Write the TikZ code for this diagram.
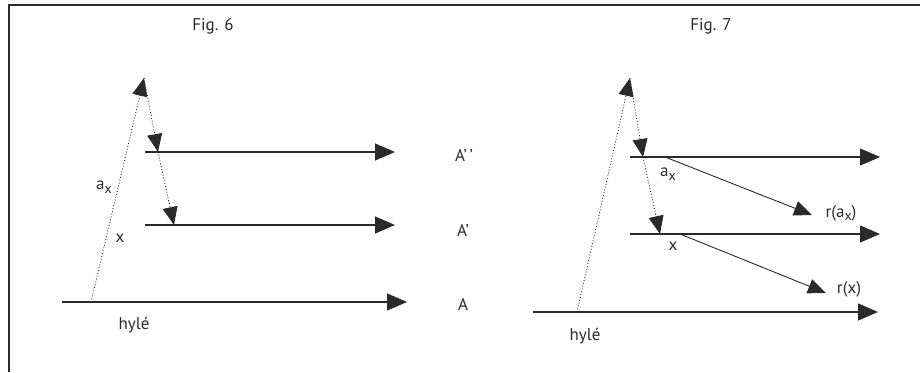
\documentclass[tikz,border=0pt]{standalone}
\usepackage{fontspec}
\setmainfont{PT Sans}
\usetikzlibrary{arrows.meta}
\definecolor{ink}{HTML}{2A2A2A}
\newcommand{\subx}{\raisebox{-0.45ex}{\fontsize{14}{14}\selectfont x}}
\tikzset{
  axis/.style={draw=ink, line width=1.1pt, -{Triangle[length=20pt,width=17pt]}},
  ray/.style={draw=ink, line width=0.9pt, -{Triangle[length=18pt,width=15pt]}},
  dotline/.style={draw=ink, line width=0.9pt, dotted, -{Triangle[length=18pt,width=15pt]}},
  lab/.style={font=\fontsize{17}{20}\selectfont, text=ink, inner sep=0pt}
}
\begin{document}
\begin{tikzpicture}[x=1pt,y=-1pt]
\useasboundingbox (0,0) rectangle (920,372);
% frame
\draw[ink, line width=1.2pt] (9,372) -- (9,5) -- (920,5);
% titles
\node[lab] (f6) at (213,26) {Fig. 6};
\node[lab] (f7) at (711,26) {Fig. 7};
% ---------- Fig 6 ----------
\coordinate (h6s) at (62,302);
\coordinate (h6e) at (407,302);
\coordinate (b6)  at (91,302);
\coordinate (p6)  at (144,78);
\coordinate (q6)  at (158,152);
\coordinate (r6)  at (174,225);
\coordinate (a2s) at (145,152);
\coordinate (a2e) at (395,152);
\coordinate (a1s) at (145,225);
\coordinate (a1e) at (395,225);
\draw[axis] (h6s) -- (h6e);
\draw[axis] (a2s) -- (a2e);
\draw[axis] (a1s) -- (a1e);
\draw[dotline] (b6) -- (p6);
\draw[dotline] (p6) -- (q6);
\draw[dotline] (q6) -- (r6);
\node[lab] (ax6) at (104,187) {a\subx};
\node[lab] (x6) at (120,238) {x};
\node[lab] (hy6) at (134,325) {hylé};
\node[lab] (A2) at (464,155) {A\textquoteright\,\textquoteright};
\node[lab] (A1) at (463,230) {A\textquoteright};
\node[lab] (A0) at (463,304) {A};
% ---------- Fig 7 ----------
\coordinate (h7s) at (533,312);
\coordinate (h7e) at (878,312);
\coordinate (b7)  at (577,312);
\coordinate (p7)  at (630,78);
\coordinate (q7)  at (643,157);
\coordinate (r7)  at (660,234);
\coordinate (c2s) at (630,157);
\coordinate (c2e) at (880,157);
\coordinate (c1s) at (630,234);
\coordinate (c1e) at (880,234);
\coordinate (d2s) at (665,157);
\coordinate (d2e) at (812,215);
\coordinate (d1s) at (680,234);
\coordinate (d1e) at (826,293);
\draw[axis] (h7s) -- (h7e);
\draw[axis] (c2s) -- (c2e);
\draw[axis] (c1s) -- (c1e);
\draw[dotline] (b7) -- (p7);
\draw[dotline] (p7) -- (q7);
\draw[dotline] (q7) -- (r7);
\draw[ray] (d2s) -- (d2e);
\draw[ray] (d1s) -- (d1e);
\node[lab] (ax7) at (668,174) {a\subx};
\node[lab] (x7) at (673,246) {x};
\node[lab] (rax) at (841,213) {r(a\subx)};
\node[lab] (rx) at (849,289) {r(x)};
\node[lab] (hy7) at (585,336) {hylé};
\end{tikzpicture}
\end{document}
